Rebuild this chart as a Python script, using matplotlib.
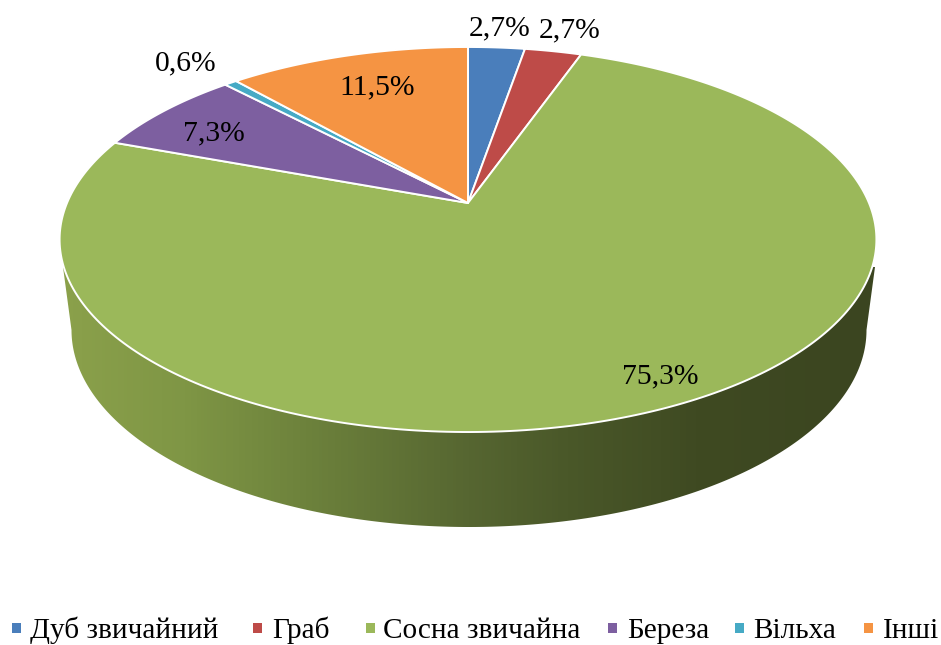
import numpy as np
import matplotlib
matplotlib.use('Agg')
import matplotlib.pyplot as plt
from matplotlib.patches import Polygon, Rectangle
from matplotlib.colors import LinearSegmentedColormap

species = ['Дуб звичайний', 'Граб', 'Сосна звичайна', 'Береза', 'Вільха', 'Інші']
shares = [2.7, 2.7, 75.3, 7.3, 0.6, 11.5]
share_labels = ['2,7%', '2,7%', '75,3%', '7,3%', '0,6%', '11,5%']
colors = ['#4a7ebb', '#be4b48', '#9bb85a', '#7d5fa0', '#46aac5', '#f59443']

# label centres and legend layout, in picture pixels
label_x = [500, 570, 660, 214, 186, 377]
label_y = [28, 30, 376, 133, 63, 87]
marker_x = [12, 253, 366, 608, 735, 864]
text_x = [30, 272, 383, 627, 753, 883]

plt.rcParams['font.family'] = ['Liberation Serif', 'DejaVu Sans']

# apex of the pie and the perspective of its top face
CX, CY = 468.0, 203.0
A, B, K = 401.0, 185.6, 0.1896


def project(angle):
    # angle in radians clockwise from 12 o'clock
    u, v = np.sin(angle), np.cos(angle)
    d = 1 + K * v
    return CX + A * u / d, CY - B * v / d


fig = plt.figure(figsize=(9.41, 6.45), dpi=100)
ax = fig.add_axes([0, 0, 1, 1])
ax.set_xlim(0, 941)
ax.set_ylim(645, 0)
ax.axis('off')

# side wall: lower ellipse joined to the top face, shaded left to right
t = np.linspace(0, np.pi, 300)
wall_x = 469 + 397.5 * np.cos(t)
wall_y = 330 + 197 * np.sin(t)
outline = np.column_stack([np.r_[875, wall_x, 63], np.r_[267, wall_y, 267]])
wall = Polygon(outline, closed=True, facecolor='none', edgecolor='none')
ax.add_patch(wall)
stops = [(0.0, '#8ba14b'), (0.15, '#7f9645'), (0.30, '#6d823c'), (0.50, '#566631'),
         (0.62, '#4a5829'), (0.78, '#3f4a22'), (1.0, '#3b4520')]
shade = LinearSegmentedColormap.from_list('wall', stops)
im = ax.imshow(np.linspace(0, 1, 256)[None, :], cmap=shade, aspect='auto',
               extent=[60, 878, 530, 260], zorder=1)
im.set_clip_path(wall)
ax.set_xlim(0, 941)
ax.set_ylim(645, 0)

# top face
ends = np.cumsum(shares) / np.sum(shares) * 2 * np.pi
starts = np.r_[0, ends[:-1]]
for a0, a1, c in zip(starts, ends, colors):
    aa = np.linspace(a0, a1, 300)
    px, py = project(aa)
    ax.fill(np.r_[CX, px], np.r_[CY, py], facecolor=c, edgecolor='white',
            linewidth=1.4, joinstyle='round', zorder=2)

for s, x, y in zip(share_labels, label_x, label_y):
    ax.text(x, y, s, ha='center', va='center', fontsize=21.3, color='black', zorder=3)

# legend
for name, c, mx, tx in zip(species, colors, marker_x, text_x):
    ax.add_patch(Rectangle((mx, 623), 9.5, 9.5, facecolor=c, edgecolor='none'))
    ax.text(tx, 638, name, ha='left', va='baseline', fontsize=21.1, color='black')

fig.savefig('out.png', dpi=100)
